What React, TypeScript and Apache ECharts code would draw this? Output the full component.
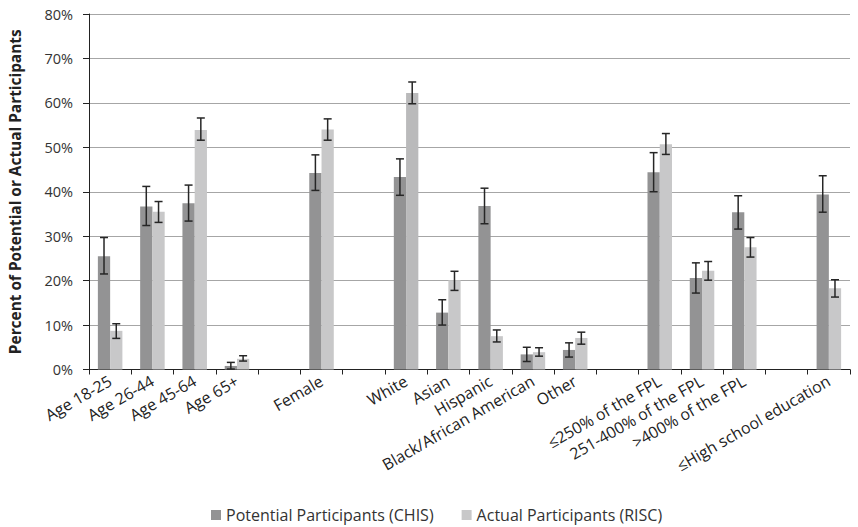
import React, { useEffect, useRef } from "react";
import * as echarts from "echarts";

// Categories (blank entries are spacer slots between groups)
const categories = [
  "Age 18-25", "Age 26-44", "Age 45-64", "Age 65+", "",
  "Female", "",
  "White", "Asian", "Hispanic", "Black/African American", "Other", "",
  "≤250% of the FPL", "251-400% of the FPL", ">400% of the FPL", "",
  "≤High school education",
];

// Potential Participants (CHIS), percent
const chisValues = [25.5, 36.7, 37.4, 0.8, null, 44.2, null, 43.3, 12.8, 36.8, 3.4, 4.4, null, 44.4, 20.6, 35.4, null, 39.4];
const chisLow = [21.5, 32.4, 33.4, 0.1, null, 40.3, null, 39.2, 10.0, 32.8, 1.8, 2.8, null, 40.0, 17.2, 31.6, null, 35.4];
const chisHigh = [29.7, 41.2, 41.5, 1.6, null, 48.3, null, 47.4, 15.7, 40.8, 5.0, 6.0, null, 48.8, 24.0, 39.1, null, 43.6];

// Actual Participants (RISC), percent
const riscValues = [8.7, 35.5, 53.9, 2.4, null, 54.0, null, 62.2, 20.1, 7.5, 3.9, 7.1, null, 50.7, 22.2, 27.5, null, 18.3];
const riscLow = [7.0, 33.1, 51.6, 1.9, null, 51.6, null, 59.8, 17.8, 6.2, 3.0, 5.7, null, 48.4, 20.1, 25.3, null, 16.3];
const riscHigh = [10.3, 37.8, 56.6, 3.1, null, 56.4, null, 64.7, 22.1, 8.9, 4.9, 8.4, null, 53.1, 24.3, 29.7, null, 20.2];

const yTicks = { min: 0, max: 80, interval: 10 };

const FONT = "Open Sans";
const CHIS_COLOR = "#939394";
const RISC_COLOR = "#c8c8c9";
const BAR_FRACTION = 0.58;

function errorSeries(lows: (number | null)[], highs: (number | null)[], side: number) {
  const data = lows.map((lo, i) => [i, lo, highs[i]]).filter((d) => d[1] != null);
  return {
    type: "custom",
    silent: true,
    z: 5,
    data,
    renderItem: (params: any, api: any) => {
      const idx = api.value(0);
      const lowPt = api.coord([idx, api.value(1)]);
      const highPt = api.coord([idx, api.value(2)]);
      const band = api.size([1, 0])[0];
      const x = lowPt[0] + side * (band * BAR_FRACTION) / 4;
      const cap = 4;
      const style = { stroke: "#262626", lineWidth: 1.5, fill: "none" };
      return {
        type: "group",
        children: [
          { type: "line", shape: { x1: x, y1: highPt[1], x2: x, y2: lowPt[1] }, style },
          { type: "line", shape: { x1: x - cap, y1: highPt[1], x2: x + cap, y2: highPt[1] }, style },
          { type: "line", shape: { x1: x - cap, y1: lowPt[1], x2: x + cap, y2: lowPt[1] }, style },
        ],
      };
    },
  };
}

export default function App() {
  const ref = useRef<HTMLDivElement>(null);

  useEffect(() => {
    document.body.style.margin = "0";
    if (!ref.current) return;
    const chart = echarts.init(ref.current, null, { renderer: "svg" });
    chart.setOption({
      animation: false,
      backgroundColor: "#ffffff",
      textStyle: { fontFamily: FONT },
      grid: { left: 88, right: 8, top: 14, bottom: 157.5, containLabel: false },
      legend: {
        top: 507,
        left: 211,
        icon: "rect",
        itemWidth: 10,
        itemHeight: 10,
        itemGap: 28,
        padding: 0,
        textStyle: { fontFamily: FONT, fontSize: 16, color: "#333" },
        data: ["Potential Participants (CHIS)", "Actual Participants (RISC)"],
      },
      xAxis: {
        type: "category",
        data: categories,
        axisLine: { lineStyle: { color: "#222", width: 1 } },
        axisTick: { show: true, interval: 0, length: 5, lineStyle: { color: "#222" } },
        axisLabel: {
          interval: 0,
          rotate: 30,
          margin: 10,
          fontFamily: FONT,
          fontSize: 16,
          color: "#222",
        },
        splitLine: { show: false },
      },
      yAxis: {
        type: "value",
        min: yTicks.min,
        max: yTicks.max,
        interval: yTicks.interval,
        name: "Percent of Potential or Actual Participants",
        nameLocation: "middle",
        nameRotate: 90,
        nameGap: 66,
        nameTextStyle: { fontFamily: FONT, fontSize: 15.4, fontWeight: "bold", color: "#222" },
        axisLine: { show: true, lineStyle: { color: "#222", width: 1 } },
        axisTick: { show: true, length: 6, lineStyle: { color: "#222" } },
        axisLabel: {
          formatter: "{value}%",
          fontFamily: FONT,
          fontSize: 14.5,
          color: "#333",
          margin: 16,
        },
        splitLine: { show: true, lineStyle: { color: "#a6a6a6", width: 1 } },
      },
      series: [
        {
          name: "Potential Participants (CHIS)",
          type: "bar",
          data: chisValues,
          barGap: "0%",
          barCategoryGap: "42%",
          itemStyle: { color: CHIS_COLOR },
        },
        {
          name: "Actual Participants (RISC)",
          type: "bar",
          data: riscValues.map((v, i) =>
            categories[i] === "White" ? { value: v, itemStyle: { color: "#bababb" } } : v
          ),
          barGap: "0%",
          barCategoryGap: "42%",
          itemStyle: { color: RISC_COLOR },
        },
        errorSeries(chisLow, chisHigh, -1),
        errorSeries(riscLow, riscHigh, 1),
      ],
    });
    return () => chart.dispose();
  }, []);

  return <div ref={ref} style={{ width: 858, height: 527 }} />;
}
